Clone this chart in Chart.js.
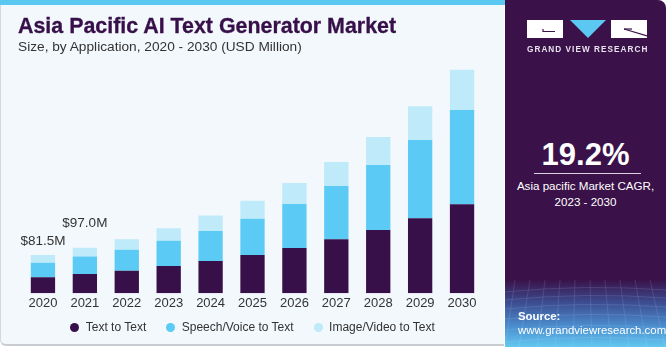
<!DOCTYPE html>
<html>
<head>
<meta charset="utf-8">
<script src="https://cdn.jsdelivr.net/npm/chart.js@4.4.0/dist/chart.umd.min.js"></script>
<style>
  html, body { margin:0; padding:0; background:#ffffff; }
  body { width:670px; height:350px; position:relative; overflow:hidden; font-family:"Liberation Sans", Arial, sans-serif; }
  #left { position:absolute; left:0; top:0; width:504px; height:346px; background:#F3F8FC; border-left:1px solid #d4d8dc; border-bottom:2px solid #c9cdd1; border-bottom-left-radius:6px; box-sizing:border-box; }
  #topbar { position:absolute; left:0; top:0; width:506px; height:5px; background:#5BC8F2; }
  #title { position:absolute; left:18px; top:14px; font-family:"Liberation Sans", Arial, sans-serif; font-weight:bold; font-size:21.4px; color:#37104A; white-space:nowrap; -webkit-text-stroke:0.3px #37104A; }
  #subtitle { position:absolute; left:18px; top:39px; font-size:13.7px; color:#333; white-space:nowrap; }
  #chartwrap { position:absolute; left:0; top:0; width:505px; height:346px; }
  #legend { position:absolute; left:0; top:319px; width:505px; height:16px; display:flex; justify-content:center; align-items:center; gap:20px; font-size:12px; color:#333; white-space:nowrap; }
  #legend .item { display:flex; align-items:center; }
  #legend .dot { width:9px; height:9px; border-radius:50%; margin-right:6.5px; display:inline-block; }
  #right { position:absolute; left:505px; top:0; width:161px; height:347px; background:#3A1249; border-top-right-radius:8px; overflow:hidden; }
  #grad { position:absolute; left:0; top:280px; width:161px; height:67px; background:linear-gradient(to bottom, #3A1249 0%, #3d4f93 35%, #4b8fd0 70%, #62c8f0 100%); }
  #cagr { position:absolute; left:0; width:161px; top:137px; text-align:center; color:#fff; font-weight:bold; font-size:31px; }
  #cagrline { position:absolute; left:29px; top:173px; width:107px; height:1px; background:#d9cfe0; }
  #cagrtext { position:absolute; left:0; width:161px; top:178px; text-align:center; color:#fff; font-size:11.6px; line-height:16px; }
  #gvr { position:absolute; left:22px; top:45px; width:120px; text-align:center; color:#e8e4ee; font-weight:bold; font-size:8.2px; letter-spacing:1.05px; white-space:nowrap; }
  #src { position:absolute; left:13px; top:309px; color:#fff; font-size:11.4px; line-height:14px; }
  .blk { position:absolute; background:#ffffff; }
</style>
</head>
<body>
<div id="left"></div>
<div id="topbar"></div>
<div id="chartwrap"><canvas id="c" width="505" height="346"></canvas></div>
<div id="legend"></div>
<div id="title">Asia Pacific AI Text Generator Market</div>
<div id="subtitle">Size, by Application, 2020 - 2030 (USD Million)</div>
<div id="right">
  <div class="blk" style="left:22px;top:20px;width:36px;height:18px;"></div>
  <div class="blk" style="left:106px;top:20px;width:36px;height:18px;"></div>
  <svg style="position:absolute;left:22px;top:20px" width="120" height="19" viewBox="0 0 120 19">
    <path d="M16 9 L16 11.5 L28 11.5" stroke="#3A1249" stroke-width="1.2" fill="none"/>
    <polygon points="43,0 79,0 61,18" fill="#5BC8F2"/>
    <path d="M97 9 L120 16" stroke="#3A1249" stroke-width="1.2" fill="none"/>
    <path d="M97 9 L105 9" stroke="#3A1249" stroke-width="1.2" fill="none"/>
  </svg>
  <div id="gvr">GRAND VIEW RESEARCH</div>
  <div id="cagr">19.2%</div>
  <div id="cagrline"></div>
  <div id="cagrtext">Asia pacific Market CAGR,<br>2023 - 2030</div>
  <div id="grad">
    <svg width="161" height="67" style="position:absolute;left:0;top:0;opacity:0.22">
      <g stroke="#cfe6ff" stroke-width="0.6" fill="none">
        <path d="M0 12 Q80 4 161 10"/><path d="M0 20 Q80 12 161 18"/><path d="M0 29 Q80 21 161 27"/>
        <path d="M0 39 Q80 31 161 37"/><path d="M0 50 Q80 42 161 48"/><path d="M0 62 Q80 54 161 60"/>
        <path d="M10 0 L0 67"/><path d="M25 0 L14 67"/><path d="M40 0 L32 67"/><path d="M55 0 L50 67"/>
        <path d="M70 0 L68 67"/><path d="M85 0 L87 67"/><path d="M100 0 L106 67"/><path d="M115 0 L124 67"/>
        <path d="M130 0 L142 67"/><path d="M145 0 L160 67"/>
      </g>
    </svg>
  </div>
  <div id="src"><b>Source:</b><br>www.grandviewresearch.com</div>
</div>
<script>
const years = ['2020','2021','2022','2023','2024','2025','2026','2027','2028','2029','2030'];
const textToText = [34.1, 41.3, 48.3, 58.3, 69.0, 81.8, 96.7, 115.3, 135.1, 160.1, 190.0];
const speechToText = [31.1, 37.0, 44.8, 54.0, 64.1, 77.5, 93.9, 113.8, 138.8, 167.2, 201.3];
const imageToText = [16.3, 18.7, 22.2, 26.5, 32.7, 38.4, 44.8, 51.2, 59.8, 71.9, 86.0];
const labelledYears = ['2020', '2021'];
const labelTexts = ['$81.5M', '$97.0M'];

const labelOffsets = [14, 25];
const totalsLabelPlugin = {
  id: 'totalsLabel',
  afterDatasetsDraw(chart) {
    const ctx = chart.ctx;
    const meta = chart.getDatasetMeta(chart.data.datasets.length - 1);
    ctx.save();
    ctx.font = '13.5px "Liberation Sans", Arial, sans-serif';
    ctx.fillStyle = '#333333';
    ctx.textAlign = 'center';
    ctx.textBaseline = 'middle';
    labelledYears.forEach((y, i) => {
      const idx = years.indexOf(y);
      const el = meta.data[idx];
      ctx.fillText(labelTexts[i], el.x, el.y - labelOffsets[i]);
    });
    ctx.restore();
  }
};

const chart = new Chart(document.getElementById('c'), {
  type: 'bar',
  data: {
    labels: years,
    datasets: [
      { label: 'Text to Text', data: textToText, backgroundColor: '#37104A' },
      { label: 'Speech/Voice to Text', data: speechToText, backgroundColor: '#5BCBF5' },
      { label: 'Image/Video to Text', data: imageToText, backgroundColor: '#BEEAFA' }
    ]
  },
  options: {
    responsive: false,
    animation: false,
    devicePixelRatio: 1,
    layout: { padding: { left: 22, right: 22, top: 59, bottom: 33.1 } },
    datasets: { bar: { barPercentage: 0.58, categoryPercentage: 1.0, borderWidth: 0 } },
    scales: {
      x: { stacked: true, grid: { display: false, drawTicks: false }, border: { display: false },
           ticks: { color: '#333333', font: { size: 13, family: '"Liberation Sans", Arial, sans-serif' }, padding: 2 } },
      y: { stacked: true, display: false, min: 0, max: 500 }
    },
    plugins: {
      legend: { display: false },
      tooltip: { enabled: false }
    }
  },
  plugins: [totalsLabelPlugin]
});

// HTML legend built from the chart's own datasets
const legendEl = document.getElementById('legend');
chart.data.datasets.forEach(ds => {
  const item = document.createElement('span');
  item.className = 'item';
  const dot = document.createElement('span');
  dot.className = 'dot';
  dot.style.background = ds.backgroundColor;
  const txt = document.createElement('span');
  txt.textContent = ds.label;
  item.appendChild(dot);
  item.appendChild(txt);
  legendEl.appendChild(item);
});
</script>
</body>
</html>
